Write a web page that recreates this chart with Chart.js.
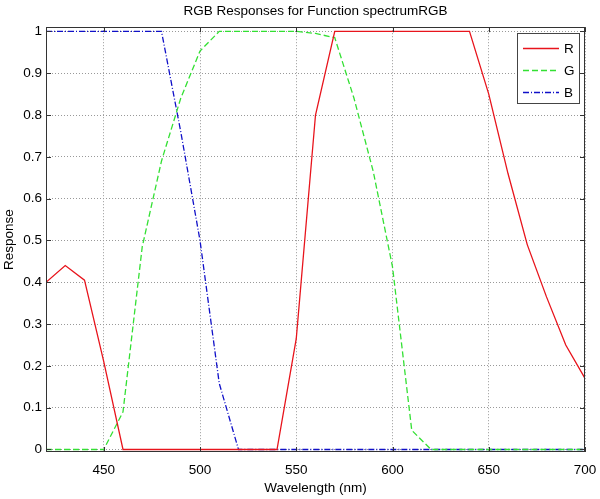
<!DOCTYPE html>
<html>
<head>
<meta charset="utf-8">
<script src="https://cdn.jsdelivr.net/npm/chart.js@4.4.0/dist/chart.umd.min.js"></script>
<style>
  html, body { margin: 0; padding: 0; background: #fff; }
  #wrap { width: 600px; height: 499px; }
</style>
</head>
<body>
<div id="wrap"><canvas id="chart"></canvas></div>
<script>
// wavelengths in nm, one sample every 10 nm
const wavelengths = [420, 430, 440, 450, 460, 470, 480, 490, 500, 510, 520, 530, 540, 550, 560,
  570, 580, 590, 600, 610, 620, 630, 640, 650, 660, 670, 680, 690, 700];
const red = [0.40, 0.44, 0.405, 0.21, 0, 0, 0, 0, 0, 0, 0, 0, 0, 0.265, 0.80,
  1, 1, 1, 1, 1, 1, 1, 1, 0.85, 0.66, 0.49, 0.365, 0.25, 0.17];
const green = [0, 0, 0, 0, 0.09, 0.485, 0.69, 0.84, 0.953, 1, 1, 1, 1, 1, 0.995,
  0.985, 0.84, 0.665, 0.437, 0.046, 0, 0, 0, 0, 0, 0, 0, 0, 0];
const blue = [1, 1, 1, 1, 1, 1, 1, 0.76, 0.50, 0.158, 0, 0, 0, 0, 0,
  0, 0, 0, 0, 0, 0, 0, 0, 0, 0, 0, 0, 0, 0];
const seriesNames = ["R", "G", "B"];
const xTicks = [450, 500, 550, 600, 650, 700];
const yTicks = [0, 0.1, 0.2, 0.3, 0.4, 0.5, 0.6, 0.7, 0.8, 0.9, 1];

const FONT = "'Liberation Sans', Arial, Helvetica, sans-serif";
const FSIZE = 13.5;
const styles = [
  { color: "#e8141c", dash: [] },
  { color: "#33e033", dash: [6, 3] },
  { color: "#1010c8", dash: [6, 2, 1, 2] }
];

const toPoints = arr => arr.map((v, i) => ({ x: wavelengths[i], y: v }));

// box round the plot, inward tick marks, legend in the top-right corner
const matlabAxes = {
  id: "matlabAxes",
  afterDraw(chart) {
    const { ctx, chartArea: a, scales } = chart;
    ctx.save();
    ctx.strokeStyle = "#333";
    ctx.lineWidth = 1;
    ctx.setLineDash([]);
    ctx.strokeRect(Math.round(a.left) + 0.5, Math.round(a.top) + 0.5,
      Math.round(a.right - a.left) - 1, Math.round(a.bottom - a.top) - 1);
    ctx.beginPath();
    xTicks.forEach(t => {
      const x = Math.round(scales.x.getPixelForValue(t)) + 0.5;
      ctx.moveTo(x, a.bottom); ctx.lineTo(x, a.bottom - 5);
      ctx.moveTo(x, a.top); ctx.lineTo(x, a.top + 5);
    });
    yTicks.forEach(t => {
      const y = Math.round(scales.y.getPixelForValue(t)) + 0.5;
      ctx.moveTo(a.left, y); ctx.lineTo(a.left + 5, y);
      ctx.moveTo(a.right, y); ctx.lineTo(a.right - 5, y);
    });
    ctx.stroke();

    // legend
    const lx = 517, ly = 33, lw = 62, lh = 70;
    ctx.fillStyle = "#fff";
    ctx.fillRect(lx, ly, lw, lh);
    ctx.strokeStyle = "#444";
    ctx.strokeRect(lx + 0.5, ly + 0.5, lw, lh);
    ctx.font = FSIZE + "px " + FONT;
    ctx.textBaseline = "middle";
    ctx.textAlign = "left";
    const rows = [48.5, 70.5, 92.5];
    seriesNames.forEach((name, i) => {
      ctx.strokeStyle = styles[i].color;
      ctx.lineWidth = 1.3;
      ctx.setLineDash(styles[i].dash);
      ctx.beginPath();
      ctx.moveTo(523, rows[i]);
      ctx.lineTo(559, rows[i]);
      ctx.stroke();
      ctx.fillStyle = "#000";
      ctx.fillText(name, 564, rows[i] + 1);
    });
    ctx.restore();
  }
};

const ctx = document.getElementById("chart").getContext("2d");
new Chart(ctx, {
  type: "line",
  data: {
    datasets: [red, green, blue].map((arr, i) => ({
      label: seriesNames[i],
      data: toPoints(arr),
      borderColor: styles[i].color,
      borderDash: styles[i].dash,
      borderWidth: 1.3,
      pointRadius: 0,
      tension: 0,
      fill: false
    }))
  },
  options: {
    responsive: true,
    maintainAspectRatio: false,
    animation: false,
    layout: { padding: { right: 15, top: 0, bottom: 0, left: 0 } },
    plugins: {
      legend: { display: false },
      tooltip: { enabled: false },
      title: {
        display: true,
        fullSize: false,
        text: "RGB Responses for Function spectrumRGB",
        color: "#000",
        font: { family: FONT, size: FSIZE, weight: "normal" },
        padding: { top: 3, bottom: 8 }
      }
    },
    scales: {
      x: {
        type: "linear",
        min: 420,
        max: 700,
        afterFit: s => { s.height = 47; s.paddingLeft = 0; s.paddingRight = 0; },
        ticks: {
          stepSize: 50,
          includeBounds: false,
          color: "#000",
          padding: 10,
          maxRotation: 0,
          font: { family: FONT, size: FSIZE }
        },
        grid: { color: "#999", drawTicks: false },
        border: { display: false, dash: [1, 2] },
        title: {
          display: true,
          text: "Wavelength (nm)",
          color: "#000",
          font: { family: FONT, size: FSIZE },
          padding: { top: 3, bottom: 3 }
        }
      },
      y: {
        min: -0.006,
        max: 1.01,
        afterFit: s => { s.width = 46; },
        ticks: {
          stepSize: 0.1,
          includeBounds: false,
          color: "#000",
          padding: 4,
          font: { family: FONT, size: FSIZE },
          callback: v => String(Math.round(v * 10) / 10)
        },
        grid: { color: "#999", drawTicks: false },
        border: { display: false, dash: [1, 2] },
        title: {
          display: true,
          text: "Response",
          color: "#000",
          font: { family: FONT, size: FSIZE },
          padding: { top: 1, bottom: 0 }
        }
      }
    }
  },
  plugins: [matlabAxes]
});
</script>
</body>
</html>
